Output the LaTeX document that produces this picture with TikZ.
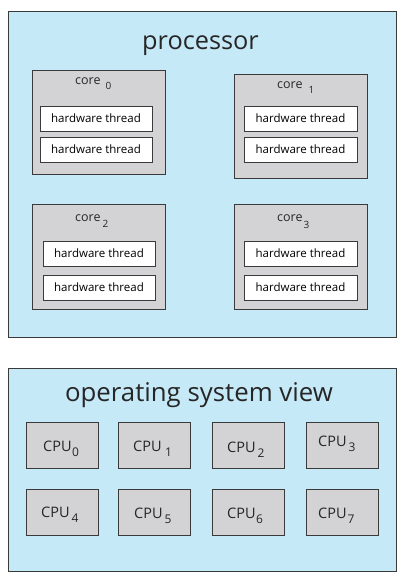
\documentclass[tikz,border=0pt]{standalone}
\usepackage{fontspec}
\setmainfont{Open Sans}
\definecolor{panelblue}{HTML}{C6E9F8}
\definecolor{boxgray}{HTML}{D3D3D5}
\definecolor{edge}{HTML}{3A3A3A}
\newcommand{\sbs}[2]{\raisebox{-#1pt}{\fontsize{10}{11}\selectfont #2}}
\newcommand{\cbs}[2]{\raisebox{-#1pt}{\fontsize{12}{13}\selectfont #2}}
\begin{document}
\begin{tikzpicture}[x=1pt,y=-1pt,
  panel/.style={draw=edge,fill=panelblue,line width=0.9pt,inner sep=0pt},
  corebox/.style={draw=edge,fill=boxgray,line width=0.9pt,inner sep=0pt,minimum width=133pt,minimum height=104pt},
  hwbox/.style={draw=edge,fill=white,line width=0.9pt,inner sep=0pt,minimum width=112pt,minimum height=25pt,font=\fontsize{11.5}{13}\selectfont},
  cpubox/.style={draw=edge,fill=boxgray,line width=0.9pt,inner sep=0pt,minimum width=72pt,minimum height=46pt},
  lbl/.style={inner sep=0pt,text=black!85,anchor=base west},
  corelbl/.style={lbl,font=\fontsize{12.5}{14}\selectfont},
  cpulbl/.style={lbl,font=\fontsize{14.5}{16}\selectfont},
  title/.style={inner sep=0pt,text=black!85,anchor=base}]
\useasboundingbox (0,0) rectangle (405,580);
% processor
\node[panel,minimum width=388pt,minimum height=326pt] (proc) at (202,174) {};
\node[title,font=\fontsize{25.3}{28}\selectfont] (ptitle) at (200.5,50) {processor};
% cores
\node[corebox] (c0) at (98.5,122) {};
\node[corebox] (c1) at (300.5,126) {};
\node[corebox,minimum height=105pt] (c2) at (98.5,256.5) {};
\node[corebox,minimum height=105pt] (c3) at (300.5,256.5) {};
\node[corelbl] (l0) at (75,85) {core\hspace{5pt}\sbs{5}{0}};
\node[corelbl] (l1) at (277,89) {core\hspace{6pt}\sbs{5}{1}};
\node[corelbl] (l2) at (75,221) {core\hspace{2pt}\sbs{6}{2}};
\node[corelbl] (l3) at (277,221) {core\hspace{1pt}\sbs{7}{3}};
% threads
\node[hwbox] (t00) at (96,118.5) {hardware thread};
\node[hwbox] (t01) at (96,149.5) {hardware thread};
\node[hwbox,minimum width=113pt] (t10) at (300.5,118.5) {hardware thread};
\node[hwbox,minimum width=113pt] (t11) at (300.5,149.5) {hardware thread};
\node[hwbox] (t20) at (99,253.5) {hardware thread};
\node[hwbox] (t21) at (99,287.5) {hardware thread};
\node[hwbox,minimum width=113pt] (t30) at (300.5,253.5) {hardware thread};
\node[hwbox,minimum width=113pt] (t31) at (300.5,287.5) {hardware thread};
% OS view
\node[panel,minimum width=388pt,minimum height=203pt] (os) at (202,469.5) {};
\node[title,font=\fontsize{25.8}{28}\selectfont] (ostitle) at (199,401.5) {operating system view};
\node[cpubox] (u0) at (62,445) {};
\node[cpubox] (u1) at (154,445) {};
\node[cpubox] (u2) at (248,445) {};
\node[cpubox] (u3) at (342,445) {};
\node[cpubox] (u4) at (62,512.5) {};
\node[cpubox] (u5) at (154,512.5) {};
\node[cpubox] (u6) at (248,512.5) {};
\node[cpubox] (u7) at (342,512.5) {};
\node[cpulbl] (v0) at (43,451) {CPU\hspace{0.5pt}\cbs{5}{0}};
\node[cpulbl] (v1) at (133,451) {CPU\hspace{3.5pt}\cbs{5}{1}};
\node[cpulbl] (v2) at (227,452) {CPU\hspace{2pt}\cbs{5}{2}};
\node[cpulbl] (v3) at (318,446) {CPU\hspace{2pt}\cbs{5}{3}};
\node[cpulbl] (v4) at (41,517) {CPU\hspace{2pt}\cbs{5}{4}};
\node[cpulbl] (v5) at (134,518) {CPU\hspace{2pt}\cbs{5}{5}};
\node[cpulbl] (v6) at (227,518) {CPU\hspace{0.5pt}\cbs{5}{6}};
\node[cpulbl] (v7) at (318,518) {CPU\hspace{1pt}\cbs{5}{7}};
\end{tikzpicture}
\end{document}
